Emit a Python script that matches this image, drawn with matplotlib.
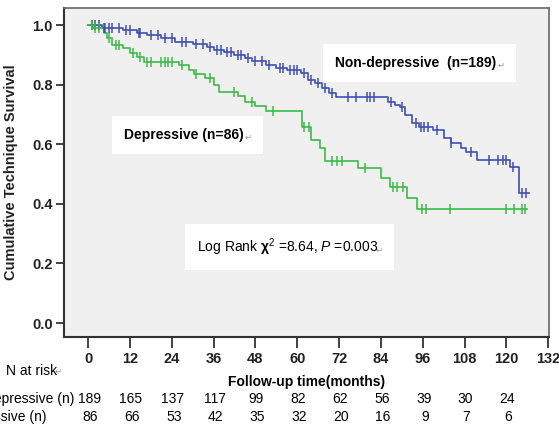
import matplotlib
matplotlib.use("Agg")
import matplotlib.pyplot as plt
import numpy as np

plt.rcParams['font.family'] = ['Liberation Sans', 'DejaVu Sans']
plt.rcParams['mathtext.fontset'] = 'custom'
plt.rcParams['mathtext.rm'] = 'Liberation Sans'
plt.rcParams['mathtext.it'] = 'Liberation Sans:italic'
plt.rcParams['mathtext.bf'] = 'Liberation Sans:bold'

# Kaplan-Meier steps (time in months, survival after step)
nondep_t = [0, 4, 10, 14, 17, 21, 25, 30, 34, 36, 39, 42, 45, 47, 51, 54, 57, 61, 63,
            65, 67, 69, 71, 86, 88, 89.5, 91, 93, 95, 99, 102, 104, 107, 108.5, 111.5,
            121, 123.5]
nondep_s = [1.0, 0.99, 0.985, 0.975, 0.966, 0.955, 0.943, 0.935, 0.925, 0.916, 0.908,
            0.90, 0.89, 0.88, 0.866, 0.856, 0.848, 0.839, 0.815, 0.805, 0.789, 0.772,
            0.758, 0.742, 0.732, 0.725, 0.698, 0.671, 0.658, 0.648, 0.62, 0.604, 0.587,
            0.574, 0.547, 0.523, 0.436]
nondep_end = 126.5
nondep_cens = [1, 2, 3, 4.5, 5, 6, 7, 9, 11, 12, 14.5, 15, 18, 20, 22, 24, 27, 28, 31,
               33, 35, 37, 38, 40, 41, 43, 44, 46, 48, 50, 52, 55, 56, 58, 59, 60, 62,
               64, 66, 68, 70, 74.5, 77, 80, 81, 82, 87, 90, 94, 95.5, 96.5, 97.5, 100,
               104, 110, 115, 117.5, 119, 120, 122, 124.5, 125.5]

dep_t = [0, 1.5, 4.5, 5.5, 7, 10, 12, 14, 16, 26, 29, 30.5, 33.5, 36, 37.5, 43, 45, 48,
         51, 61.5, 64, 66.5, 68, 77.5, 84, 86.5, 91.5, 94.5]
dep_s = [1.0, 0.99, 0.973, 0.956, 0.933, 0.923, 0.906, 0.893, 0.876, 0.866, 0.849,
         0.836, 0.822, 0.80, 0.775, 0.762, 0.742, 0.73, 0.71, 0.658, 0.614, 0.587,
         0.544, 0.52, 0.487, 0.456, 0.419, 0.383]
dep_end = 126
dep_cens = [1, 2, 3, 6, 8, 9, 13, 15, 17, 18, 21, 22, 23, 24, 27, 31, 35, 42, 47, 53,
            62, 63.5, 70, 71.3, 72.8, 79.4, 87.4, 88.5, 90.3, 95.7, 97, 103.7, 120,
            122.3, 124.4, 125.3]

risk_times = [0, 12, 24, 36, 48, 60, 72, 84, 96, 108, 120]
risk_nondep = [189, 165, 137, 117, 99, 82, 62, 56, 39, 30, 24]
risk_dep = [86, 66, 53, 42, 35, 32, 20, 16, 9, 7, 6]

blue = '#3f50b5'
green = '#3dbb48'

fig = plt.figure(figsize=(5.59, 4.25), dpi=100)
ax = fig.add_axes([0.1145, 0.207, 0.868, 0.774])
ax.set_facecolor('#f0f0f0')


def km(t, s, end, cens, color):
    tt = list(t) + [end]
    ss = list(s) + [s[-1]]
    ax.step(tt, ss, where='post', color=color, lw=1.2, zorder=3)
    idx = np.searchsorted(np.array(t), np.array(cens), side='right') - 1
    ax.plot(cens, np.array(s)[idx], ls='none', marker='|', ms=7, mew=1.1,
            color=color, zorder=4)


km(nondep_t, nondep_s, nondep_end, nondep_cens, blue)
km(dep_t, dep_s, dep_end, dep_cens, green)

ax.set_xlim(-6.9, 132.3)
ax.set_ylim(-0.047, 1.057)
ax.set_xticks(range(0, 133, 12))
ax.set_yticks([0, 0.2, 0.4, 0.6, 0.8, 1.0])
ax.set_yticklabels(['%.1f' % v for v in [0, 0.2, 0.4, 0.6, 0.8, 1.0]])
for lab in ax.get_xticklabels() + ax.get_yticklabels():
    lab.set_fontweight('bold')
    lab.set_fontsize(10.5)
    lab.set_color('#222222')
ax.tick_params(axis='y', direction='out', length=6, width=1.3, color='#333333', pad=2)
ax.tick_params(axis='x', direction='out', length=8, width=1.3, color='#333333', pad=3)
for side in ['left', 'bottom']:
    ax.spines[side].set_color('#333333')
    ax.spines[side].set_linewidth(1.5)
for side in ['top', 'right']:
    ax.spines[side].set_color('#666666')
    ax.spines[side].set_linewidth(1.2)

ax.set_ylabel('Cumulative Technique Survival', fontsize=10.5, fontweight='bold', color='#222222')
ax.yaxis.set_label_coords(-0.095, 0.5)


def label(x, y, s, weight):
    t = ax.text(x, y, s + '  ', fontsize=10, fontweight=weight, va='center',
                ha='left', zorder=5,
                bbox=dict(boxstyle='square,pad=0.85', fc='white', ec='none'))
    ax.annotate('\u21b5', xy=(1, 0.35), xycoords=t, xytext=(-4.6, 0),
                textcoords='offset points', ha='left', va='center', fontsize=6,
                color='#999999', family='DejaVu Sans', zorder=6)


label(70.8, 0.872, 'Non-depressive  (n=189)', 'bold')
label(10.3, 0.631, 'Depressive (n=86)', 'bold')
label(31.2, 0.255, r'Log Rank $\mathbf{\chi}^2$ =8.64, $P$ =0.003', 'normal')

fig.text(0.011, 0.127, 'N at risk', fontsize=10, va='center', ha='left')
fig.text(0.011 + 0.087, 0.127, '\u21b5', fontsize=6, va='center', color='#999999',
         family='DejaVu Sans')
fig.text(0.549, 0.101, 'Follow-up time(months)', fontsize=10, fontweight='bold',
         va='center', ha='center')

trans = matplotlib.transforms.blended_transform_factory(ax.transData, fig.transFigure)
fig.text(-0.078, 0.061, 'Non-depressive (n)', fontsize=10, va='center', ha='left')
fig.text(-0.078, 0.019, 'Depressive (n)', fontsize=10, va='center', ha='left')
for x, a, b in zip(risk_times, risk_nondep, risk_dep):
    ax.text(x + 0.3, 0.061, str(a), transform=trans, fontsize=10, ha='center',
            va='center', clip_on=False)
    ax.text(x + 0.6, 0.019, str(b), transform=trans, fontsize=10, ha='center',
            va='center', clip_on=False)

fig.savefig('out.png', dpi=100)
